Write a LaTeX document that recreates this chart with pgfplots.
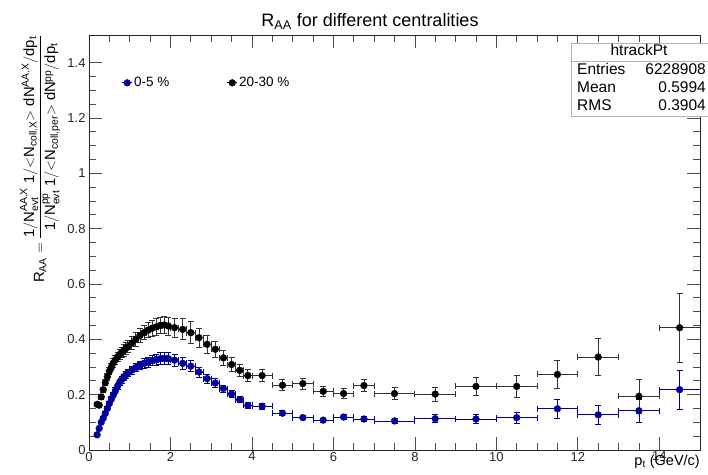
\documentclass[border=0pt]{standalone}
\usepackage{fontspec}
\setmainfont{Liberation Sans}
\usepackage{amsmath}
\usepackage{pgfplots}
\pgfplotsset{compat=1.18}
\usepackage{pgfplotstable}
\definecolor{rootblue}{RGB}{0,0,153}

% 0-5 %
\pgfplotstableread{
x y ex ey
0.2 0.055 0.025 0.004
0.25 0.078 0.025 0.005
0.3 0.100 0.025 0.005
0.35 0.115 0.025 0.006
0.4 0.132 0.025 0.006
0.45 0.150 0.025 0.007
0.5 0.168 0.025 0.008
0.55 0.185 0.025 0.008
0.6 0.200 0.025 0.009
0.65 0.215 0.025 0.010
0.7 0.230 0.025 0.010
0.75 0.243 0.025 0.011
0.8 0.254 0.025 0.012
0.85 0.263 0.025 0.012
0.9 0.271 0.025 0.013
0.95 0.278 0.025 0.013
1.05 0.288 0.05 0.014
1.15 0.298 0.05 0.015
1.25 0.306 0.05 0.016
1.35 0.313 0.05 0.017
1.45 0.318 0.05 0.018
1.55 0.323 0.05 0.019
1.65 0.327 0.05 0.020
1.75 0.330 0.05 0.021
1.85 0.331 0.05 0.022
1.95 0.330 0.05 0.022
2.1 0.325 0.1 0.022
2.3 0.313 0.1 0.021
2.5 0.303 0.1 0.020
2.7 0.282 0.1 0.018
2.9 0.258 0.1 0.016
3.1 0.242 0.1 0.015
3.3 0.222 0.1 0.013
3.5 0.202 0.1 0.012
3.7 0.182 0.1 0.011
3.9 0.161 0.1 0.010
4.25 0.158 0.25 0.010
4.75 0.133 0.25 0.009
5.25 0.117 0.25 0.008
5.75 0.108 0.25 0.008
6.25 0.119 0.25 0.009
6.75 0.112 0.25 0.010
7.5 0.105 0.5 0.010
8.5 0.113 0.5 0.014
9.5 0.112 0.5 0.016
10.5 0.117 0.5 0.020
11.5 0.149 0.5 0.033
12.5 0.127 0.5 0.035
13.5 0.142 0.5 0.042
14.5 0.218 0.5 0.070
}\central

% 20-30 %
\pgfplotstableread{
x y ex ey
0.2 0.165 0.025 0.008
0.25 0.162 0.025 0.008
0.3 0.192 0.025 0.009
0.35 0.218 0.025 0.010
0.4 0.243 0.025 0.011
0.45 0.265 0.025 0.012
0.5 0.285 0.025 0.013
0.55 0.300 0.025 0.014
0.6 0.315 0.025 0.015
0.65 0.326 0.025 0.016
0.7 0.336 0.025 0.017
0.75 0.345 0.025 0.018
0.8 0.353 0.025 0.019
0.85 0.360 0.025 0.020
0.9 0.367 0.025 0.021
0.95 0.373 0.025 0.022
1.05 0.386 0.05 0.023
1.15 0.400 0.05 0.024
1.25 0.414 0.05 0.025
1.35 0.424 0.05 0.026
1.45 0.433 0.05 0.027
1.55 0.440 0.05 0.028
1.65 0.445 0.05 0.029
1.75 0.450 0.05 0.030
1.85 0.452 0.05 0.031
1.95 0.448 0.05 0.032
2.1 0.442 0.1 0.035
2.3 0.436 0.1 0.038
2.5 0.424 0.1 0.040
2.7 0.406 0.1 0.035
2.9 0.382 0.1 0.033
3.1 0.364 0.1 0.030
3.3 0.333 0.1 0.027
3.5 0.309 0.1 0.025
3.7 0.288 0.1 0.023
3.9 0.269 0.1 0.021
4.25 0.269 0.25 0.021
4.75 0.234 0.25 0.020
5.25 0.240 0.25 0.020
5.75 0.212 0.25 0.019
6.25 0.204 0.25 0.019
6.75 0.233 0.25 0.022
7.5 0.204 0.5 0.022
8.5 0.202 0.5 0.026
9.5 0.230 0.5 0.034
10.5 0.230 0.5 0.040
11.5 0.273 0.5 0.050
12.5 0.336 0.5 0.068
13.5 0.194 0.5 0.060
14.5 0.442 0.5 0.125
}\semi

\begin{document}
\begin{tikzpicture}
\path[use as bounding box] (-89bp,-25bp) rectangle (619bp,450bp);
\begin{axis}[
  scale only axis, width=611bp, height=415bp,
  xmin=0, xmax=15, ymin=0, ymax=1.5,
  xtick={0,2,...,14}, ytick={0,0.2,0.4,0.6,0.8,1,1.2,1.4},
  minor x tick num=3, minor y tick num=3,
  tick align=inside,
  major tick length=13bp, minor tick length=7bp,
  axis line style={line width=0.9bp, black!85},
  every tick/.style={black!70, line width=0.7bp},
  tick label style={font=\fontsize{13bp}{15bp}\selectfont, text=black!85},
  /pgf/number format/assume math mode=true,
  xticklabel style={yshift=1.5bp},
  legend columns=2,
  legend style={at={(axis cs:0.80,1.327)}, anchor=west, draw=none, fill=none,
    inner sep=0pt, font=\fontsize{13.5bp}{16bp}\selectfont,
    nodes={inner sep=1.5bp},
    /tikz/every even column/.append style={column sep=56bp}},
  legend image code/.code={
    \draw[#1, mark=none, line width=0.8bp] (0bp,0bp) -- (10bp,0bp);
    \draw[#1, only marks] plot coordinates {(5bp,0bp)};},
]
\addplot[rootblue, only marks, mark=*, mark size=3.4bp,
  mark options={fill=rootblue, draw=rootblue},
  error bars/.cd, x dir=both, x explicit, y dir=both, y explicit,
  error bar style={line width=0.8bp, rootblue},
  error mark options={rotate=90, mark size=3bp, line width=0.8bp, rootblue}]
  table[x=x, y=y, x error=ex, y error=ey] {\central};
\addlegendentry{0-5 \%}
\addplot[black, only marks, mark=*, mark size=3.4bp,
  mark options={fill=black, draw=black},
  error bars/.cd, x dir=both, x explicit, y dir=both, y explicit,
  error bar style={line width=0.8bp, black!80},
  error mark options={rotate=90, mark size=3bp, line width=0.8bp, black!80}]
  table[x=x, y=y, x error=ex, y error=ey] {\semi};
\addlegendentry{20-30 \%}
\end{axis}

% title
\node[anchor=base, inner sep=0pt, font=\fontsize{18bp}{20bp}\selectfont]
  at (281bp,423bp) {R\textsubscript{AA} for different centralities};
% x label
\node[anchor=base east, inner sep=0pt, font=\fontsize{14.5bp}{16bp}\selectfont]
  at (611bp,-15bp) {p\textsubscript{t} (GeV/c)};
% y label
\node[rotate=90, anchor=east, inner sep=0pt, font=\fontsize{14.8bp}{17bp}\selectfont]
  at (-49bp,415bp)
  {$\mathrm{R}_{\mathrm{AA}} = \dfrac{\mathrm{1/N^{AA,X}_{evt}\;1/{<}N_{coll,X}{>}\;dN^{AA,X}/dp_{t}}}{\mathrm{1/N^{pp}_{evt}\;1/{<}N_{coll,per}{>}\;dN^{pp}/dp_{t}}}$};
% stats box
\draw[gray!60, fill=white, line width=0.8bp] (482bp,334bp) rectangle (619bp,407bp);
\draw[gray!60, line width=0.8bp] (482bp,389bp) -- (619bp,389bp);
\begin{scope}[every node/.style={inner sep=0pt, font=\fontsize{15.5bp}{18bp}\selectfont}]
\node[anchor=base] at (550bp,394bp) {htrackPt};
\node[anchor=base west] at (488bp,375bp) {Entries};
\node[anchor=base east] at (617bp,375bp) {6228908};
\node[anchor=base west] at (488bp,357bp) {Mean};
\node[anchor=base east] at (617bp,357bp) {0.5994};
\node[anchor=base west] at (488bp,339bp) {RMS};
\node[anchor=base east] at (617bp,339bp) {0.3904};
\end{scope}
\end{tikzpicture}
\end{document}
